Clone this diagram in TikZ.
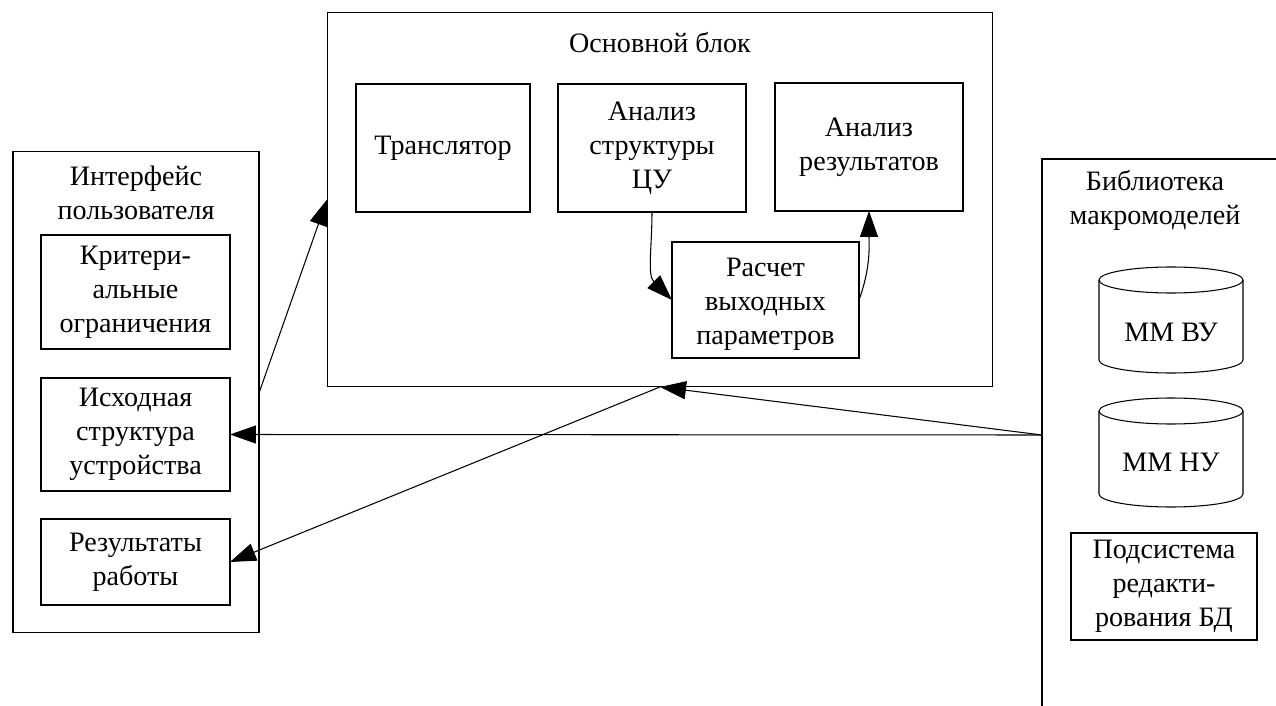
\documentclass[tikz,border=0pt]{standalone}
\usepackage{fontspec}
\setmainfont{Liberation Serif}
\usetikzlibrary{arrows.meta}
\tikzset{
  box/.style={draw, align=center, inner sep=0pt, outer sep=0pt},
  title/.style={align=center, inner sep=0pt},
  arr/.style={-{Triangle[length=0.52cm,width=0.36cm]}}
}
\begin{document}
\begin{tikzpicture}[x=0.02cm, y=-0.02cm, line width=0.6pt,
  font=\fontsize{16}{19.3}\selectfont]
  \useasboundingbox (0,0) rectangle (1276,706);
  % user interface
  \node[box, minimum width=4.92cm, minimum height=9.64cm] (ui) at (136,392) {};
  \node[title] (uit) at (136,193) {Интерфейс\\пользователя};
  \node[box, minimum width=3.78cm, minimum height=2.28cm] (crit) at (135.5,292) {Критери-\\альные\\ограничения};
  \node[box, minimum width=3.78cm, minimum height=2.26cm] (src) at (135.5,434.5) {Исходная\\структура\\устройства};
  \node[box, minimum width=3.78cm, minimum height=1.72cm] (res) at (135.5,562) {Результаты\\работы};
  % main block
  \node[box, minimum width=13.32cm, minimum height=7.5cm] (main) at (660,199.5) {};
  \node[title] (maint) at (660,43) {Основной блок};
  \node[box, minimum width=3.48cm, minimum height=2.56cm] (tr) at (443,148) {Транслятор};
  \node[box, minimum width=3.76cm, minimum height=2.56cm] (an1) at (652,148) {Анализ\\структуры\\ЦУ};
  \node[box, minimum width=3.76cm, minimum height=2.56cm] (an3) at (869,147) {Анализ\\результатов};
  \node[box, minimum width=3.74cm, minimum height=2.32cm] (calc) at (765.5,300) {};
  \node[title] (calct) at (765.5,304) {Расчет\\выходных\\параметров};
  % macromodel library (open on the right)
  \draw (1276,159) -- (1042,159) -- (1042,706);
  \coordinate (libL) at (1042,435);
  \node[title] (libt) at (1155,200) {Библиотека\\макромоделей};
  \draw (1099,280) -- (1099,360) arc[start angle=180, end angle=360, x radius=1.44cm, y radius=0.26cm] -- (1243,280);
  \draw (1171,280) ellipse [x radius=1.44cm, y radius=0.26cm];
  \node[title] (mmv) at (1171,332) {ММ ВУ};
  \draw (1099,411) -- (1099,494) arc[start angle=180, end angle=360, x radius=1.44cm, y radius=0.26cm] -- (1243,411);
  \draw (1171,411) ellipse [x radius=1.44cm, y radius=0.26cm];
  \node[title] (mmn) at (1171,462) {ММ НУ};
  \node[box, minimum width=3.72cm, minimum height=2.14cm] (sub) at (1164,586.5) {Подсистема\\редакти-\\рования БД};
  % connectors
  \coordinate (uiR) at (259,393);
  \draw[arr] (uiR) -- (main.west);
  \draw[arr] (libL) -- (src.east);
  \draw[arr] (libL) -- (main.south);
  \draw[arr] (main.south) -- (res.east);
  \draw[arr] (an1.south) to[out=-90, in=135] (calc.west);
  \draw[arr] (calc.east) to[out=70, in=-90] (an3.south);
\end{tikzpicture}
\end{document}
